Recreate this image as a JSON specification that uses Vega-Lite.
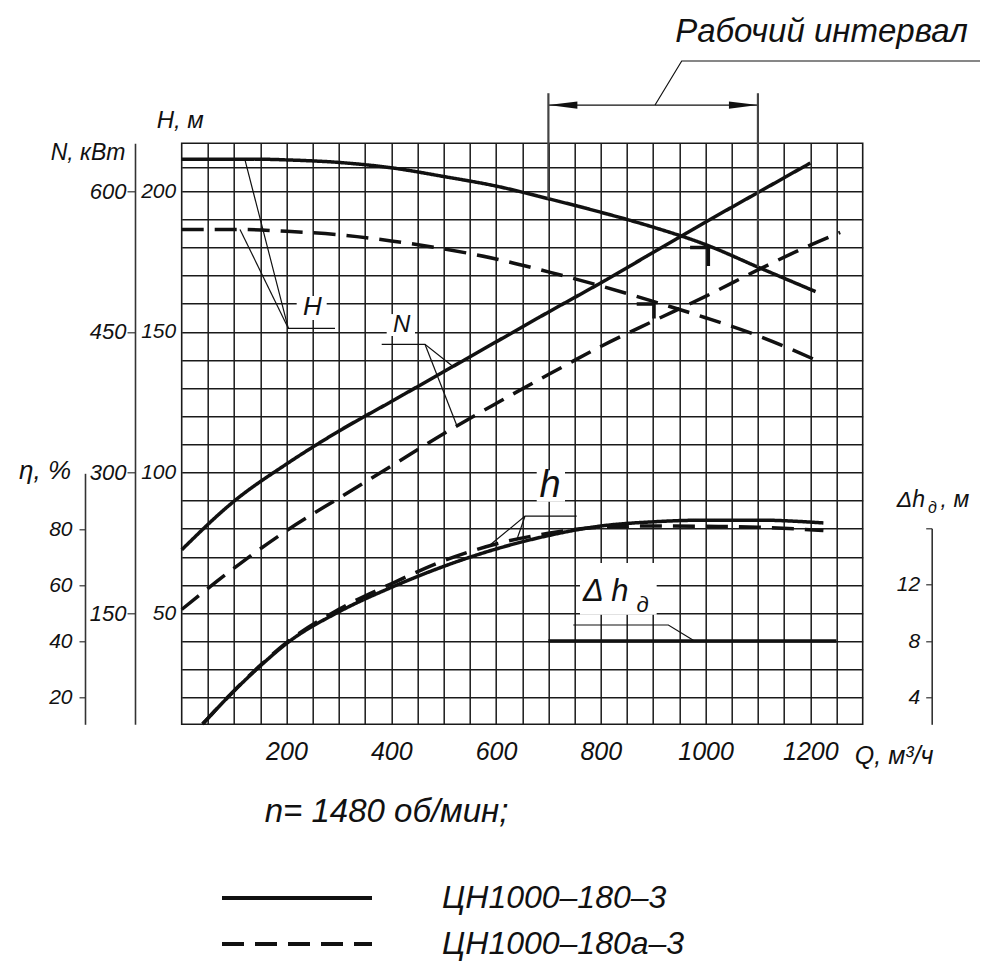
{
  "$schema": "https://vega.github.io/schema/vega-lite/v6.json",
  "width": 681,
  "height": 581,
  "autosize": {"type": "none"},
  "padding": {"left": 181.7, "top": 143.3, "right": 137.3, "bottom": 255.7},
  "background": "white",
  "config": {
    "view": {"stroke": "#1a1a1a", "strokeWidth": 1.6},
    "axis": {
      "labelFont": "Liberation Sans, sans-serif",
      "labelFontStyle": "italic",
      "labelColor": "#111",
      "titleFont": "Liberation Sans, sans-serif",
      "titleFontStyle": "italic",
      "titleFontWeight": "normal",
      "titleColor": "#111",
      "tickColor": "#333",
      "domainColor": "#333"
    },
    "text": {"font": "Liberation Sans, sans-serif", "fontStyle": "italic", "color": "#111"}
  },
  "datasets": {
    "hcurves": [
      {"pump": "ЦН1000–180–3", "Q": 0, "H": 211.3},
      {"pump": "ЦН1000–180–3", "Q": 100, "H": 211.3},
      {"pump": "ЦН1000–180–3", "Q": 160, "H": 211.3},
      {"pump": "ЦН1000–180–3", "Q": 200, "H": 211.1},
      {"pump": "ЦН1000–180–3", "Q": 300, "H": 210.2},
      {"pump": "ЦН1000–180–3", "Q": 400, "H": 208.3},
      {"pump": "ЦН1000–180–3", "Q": 500, "H": 205.2},
      {"pump": "ЦН1000–180–3", "Q": 600, "H": 201.8},
      {"pump": "ЦН1000–180–3", "Q": 700, "H": 197.3},
      {"pump": "ЦН1000–180–3", "Q": 800, "H": 192.5},
      {"pump": "ЦН1000–180–3", "Q": 900, "H": 187.2},
      {"pump": "ЦН1000–180–3", "Q": 1000, "H": 181.0},
      {"pump": "ЦН1000–180–3", "Q": 1100, "H": 173.0},
      {"pump": "ЦН1000–180–3", "Q": 1210, "H": 164.3},
      {"pump": "ЦН1000–180а–3", "Q": 0, "H": 186.4},
      {"pump": "ЦН1000–180а–3", "Q": 110, "H": 186.4},
      {"pump": "ЦН1000–180а–3", "Q": 200, "H": 185.7},
      {"pump": "ЦН1000–180а–3", "Q": 300, "H": 184.5},
      {"pump": "ЦН1000–180а–3", "Q": 400, "H": 182.3},
      {"pump": "ЦН1000–180а–3", "Q": 500, "H": 179.5},
      {"pump": "ЦН1000–180а–3", "Q": 600, "H": 175.9},
      {"pump": "ЦН1000–180а–3", "Q": 700, "H": 171.3},
      {"pump": "ЦН1000–180а–3", "Q": 800, "H": 166.3},
      {"pump": "ЦН1000–180а–3", "Q": 900, "H": 160.8},
      {"pump": "ЦН1000–180а–3", "Q": 1000, "H": 155.0},
      {"pump": "ЦН1000–180а–3", "Q": 1100, "H": 148.6},
      {"pump": "ЦН1000–180а–3", "Q": 1210, "H": 140.0}
    ],
    "ncurves": [
      {"pump": "ЦН1000–180–3", "Q": 0, "N": 217.5},
      {"pump": "ЦН1000–180–3", "Q": 100, "N": 269.4},
      {"pump": "ЦН1000–180–3", "Q": 200, "N": 309.0},
      {"pump": "ЦН1000–180–3", "Q": 300, "N": 344.1},
      {"pump": "ЦН1000–180–3", "Q": 400, "N": 375.6},
      {"pump": "ЦН1000–180–3", "Q": 500, "N": 407.4},
      {"pump": "ЦН1000–180–3", "Q": 600, "N": 439.2},
      {"pump": "ЦН1000–180–3", "Q": 700, "N": 471.0},
      {"pump": "ЦН1000–180–3", "Q": 800, "N": 502.2},
      {"pump": "ЦН1000–180–3", "Q": 900, "N": 534.6},
      {"pump": "ЦН1000–180–3", "Q": 1000, "N": 567.0},
      {"pump": "ЦН1000–180–3", "Q": 1100, "N": 598.5},
      {"pump": "ЦН1000–180–3", "Q": 1200, "N": 630.0},
      {"pump": "ЦН1000–180а–3", "Q": 0, "N": 153.9},
      {"pump": "ЦН1000–180а–3", "Q": 100, "N": 198.0},
      {"pump": "ЦН1000–180а–3", "Q": 200, "N": 237.9},
      {"pump": "ЦН1000–180а–3", "Q": 300, "N": 272.7},
      {"pump": "ЦН1000–180а–3", "Q": 400, "N": 306.9},
      {"pump": "ЦН1000–180а–3", "Q": 500, "N": 341.4},
      {"pump": "ЦН1000–180а–3", "Q": 600, "N": 373.5},
      {"pump": "ЦН1000–180а–3", "Q": 700, "N": 404.4},
      {"pump": "ЦН1000–180а–3", "Q": 800, "N": 434.4},
      {"pump": "ЦН1000–180а–3", "Q": 900, "N": 461.4},
      {"pump": "ЦН1000–180а–3", "Q": 1000, "N": 487.8},
      {"pump": "ЦН1000–180а–3", "Q": 1100, "N": 516.0},
      {"pump": "ЦН1000–180а–3", "Q": 1200, "N": 542.4},
      {"pump": "ЦН1000–180а–3", "Q": 1257, "N": 555.9}
    ],
    "etacurves": [
      {"pump": "ЦН1000–180–3", "Q": 40, "eta": 10.6},
      {"pump": "ЦН1000–180–3", "Q": 100, "eta": 22.4},
      {"pump": "ЦН1000–180–3", "Q": 150, "eta": 31.3},
      {"pump": "ЦН1000–180–3", "Q": 200, "eta": 39.3},
      {"pump": "ЦН1000–180–3", "Q": 300, "eta": 50.6},
      {"pump": "ЦН1000–180–3", "Q": 400, "eta": 59.3},
      {"pump": "ЦН1000–180–3", "Q": 500, "eta": 66.8},
      {"pump": "ЦН1000–180–3", "Q": 600, "eta": 73.0},
      {"pump": "ЦН1000–180–3", "Q": 700, "eta": 77.8},
      {"pump": "ЦН1000–180–3", "Q": 800, "eta": 81.2},
      {"pump": "ЦН1000–180–3", "Q": 900, "eta": 82.7},
      {"pump": "ЦН1000–180–3", "Q": 1000, "eta": 83.3},
      {"pump": "ЦН1000–180–3", "Q": 1100, "eta": 83.3},
      {"pump": "ЦН1000–180–3", "Q": 1225, "eta": 82.3},
      {"pump": "ЦН1000–180а–3", "Q": 40, "eta": 10.6},
      {"pump": "ЦН1000–180а–3", "Q": 100, "eta": 22.5},
      {"pump": "ЦН1000–180а–3", "Q": 150, "eta": 31.5},
      {"pump": "ЦН1000–180а–3", "Q": 200, "eta": 39.6},
      {"pump": "ЦН1000–180а–3", "Q": 300, "eta": 51.5},
      {"pump": "ЦН1000–180а–3", "Q": 400, "eta": 60.6},
      {"pump": "ЦН1000–180а–3", "Q": 500, "eta": 68.8},
      {"pump": "ЦН1000–180а–3", "Q": 600, "eta": 74.8},
      {"pump": "ЦН1000–180а–3", "Q": 700, "eta": 78.6},
      {"pump": "ЦН1000–180а–3", "Q": 800, "eta": 80.8},
      {"pump": "ЦН1000–180а–3", "Q": 900, "eta": 81.2},
      {"pump": "ЦН1000–180а–3", "Q": 1000, "eta": 81.1},
      {"pump": "ЦН1000–180а–3", "Q": 1100, "eta": 80.8},
      {"pump": "ЦН1000–180а–3", "Q": 1225, "eta": 79.6}
    ],
    "dh": [
      {"Q": 700, "dh": 8},
      {"Q": 1250, "dh": 8}
    ],
    "leaders": [
      {"g": 1, "o": 1, "Q": 120.8, "H": 211.1},
      {"g": 1, "o": 2, "Q": 203.5, "H": 151.25},
      {"g": 1, "o": 3, "Q": 292.6, "H": 151.25},
      {"g": 2, "o": 1, "Q": 111.3, "H": 186.4},
      {"g": 2, "o": 2, "Q": 203.5, "H": 151.25},
      {"g": 3, "o": 1, "Q": 381.8, "H": 145.56},
      {"g": 3, "o": 2, "Q": 464.4, "H": 145.56},
      {"g": 3, "o": 3, "Q": 518.5, "H": 137.6},
      {"g": 4, "o": 1, "Q": 464.4, "H": 145.56},
      {"g": 4, "o": 2, "Q": 525.0, "H": 116.8},
      {"g": 5, "o": 1, "Q": 588.5, "H": 74.2},
      {"g": 5, "o": 2, "Q": 655.4, "H": 84.5},
      {"g": 5, "o": 3, "Q": 754.0, "H": 84.5},
      {"g": 6, "o": 1, "Q": 639.5, "H": 76.0},
      {"g": 6, "o": 2, "Q": 655.4, "H": 84.5},
      {"g": 7, "o": 1, "Q": 747.5, "H": 45.8},
      {"g": 7, "o": 2, "Q": 929.0, "H": 45.8},
      {"g": 7, "o": 3, "Q": 976.6, "H": 40.4},
      {"g": 8, "o": 1, "Q": 700, "H": 230.6},
      {"g": 8, "o": 2, "Q": 1100, "H": 230.6},
      {"g": 9, "o": 1, "Q": 903.6, "H": 230.6},
      {"g": 9, "o": 2, "Q": 954.5, "H": 246.25},
      {"g": 9, "o": 3, "Q": 1524, "H": 246.25}
    ],
    "markers": [
      {"g": 1, "o": 1, "Q": 970.5, "H": 180.0},
      {"g": 1, "o": 2, "Q": 1005.3, "H": 180.0},
      {"g": 1, "o": 3, "Q": 1005.3, "H": 173.4},
      {"g": 2, "o": 1, "Q": 868.6, "H": 159.9},
      {"g": 2, "o": 2, "Q": 901.6, "H": 159.9},
      {"g": 2, "o": 3, "Q": 901.6, "H": 154.7}
    ]
  },
  "layer": [
    {
      "data": {"name": "hcurves"},
      "mark": {"type": "line", "color": "#111", "strokeWidth": 3.5, "interpolate": "monotone", "clip": false},
      "encoding": {
        "x": {
          "field": "Q", "type": "quantitative",
          "scale": {"domain": [0, 1300], "nice": false, "zero": false},
          "axis": {
            "values": [50,100,150,200,250,300,350,400,450,500,550,600,650,700,750,800,850,900,950,1000,1050,1100,1150,1200,1250],
            "format": "d",
            "labelExpr": "datum.value % 200 === 0 ? datum.label : ''",
            "grid": true, "gridColor": "#1a1a1a", "gridWidth": 1.5, "gridOpacity": 1,
            "ticks": false, "domain": false,
            "labelFontSize": 25, "labelPadding": 27, "labelBaseline": "middle", "labelAngle": 0,
            "labelOverlap": false, "labelFlush": false,
            "title": "Q, м³/ч", "titleFontSize": 25, "titleX": 712, "titleY": 31,
            "titleAlign": "center", "titleBaseline": "middle", "titleAngle": 0
          }
        },
        "y": {
          "field": "H", "type": "quantitative",
          "scale": {"domain": [10.5, 217], "nice": false, "zero": false},
          "axis": {
            "orient": "left",
            "values": [20,30,40,50,60,70,80,90,100,110,120,130,140,150,160,170,180,190,200,208.5],
            "format": "d",
            "labelExpr": "datum.value % 50 === 0 ? datum.label : ''",
            "grid": true, "gridColor": "#1a1a1a", "gridWidth": 1.5, "gridOpacity": 1,
            "ticks": false, "domain": false,
            "labelFontSize": 21, "labelPadding": 6, "labelOverlap": false,
            "title": "H, м", "titleAngle": 0, "titleFontSize": 24,
            "titleX": -2, "titleY": -23, "titleAlign": "center", "titleBaseline": "middle"
          }
        },
        "strokeDash": {
          "field": "pump", "type": "nominal",
          "scale": {"domain": ["ЦН1000–180–3", "ЦН1000–180а–3"], "range": [[1, 0], [22, 11]]},
          "legend": {
            "orient": "none", "legendX": 98.3, "legendY": 737.7, "title": null,
            "symbolType": "M-5,0H5", "symbolSize": 900, "symbolStrokeWidth": 4,
            "symbolStrokeColor": "#111", "symbolFillColor": "transparent",
            "labelFont": "Liberation Sans, sans-serif",
            "labelFontStyle": "italic", "labelFontSize": 32, "labelColor": "#111",
            "labelOffset": 128, "rowPadding": 13, "padding": 0, "labelLimit": 500
          }
        }
      }
    },
    {
      "data": {"name": "ncurves"},
      "mark": {"type": "line", "color": "#111", "strokeWidth": 3.5, "interpolate": "monotone", "clip": false},
      "encoding": {
        "x": {"field": "Q", "type": "quantitative", "scale": {"domain": [0, 1300], "nice": false, "zero": false}, "axis": null},
        "y": {
          "field": "N", "type": "quantitative",
          "scale": {"domain": [31.5, 651], "nice": false, "zero": false},
          "axis": {
            "orient": "left", "offset": 46.7,
            "values": [150, 300, 450, 600], "format": "d",
            "grid": false, "ticks": true, "tickSize": 8, "tickWidth": 1.2,
            "domain": true, "domainWidth": 1.6,
            "labelFontSize": 22, "labelPadding": 1,
            "title": "N, кВт", "titleAngle": 0, "titleFontSize": 23,
            "titleX": -47.5, "titleY": 8.7, "titleAlign": "center", "titleBaseline": "middle"
          }
        },
        "strokeDash": {
          "field": "pump", "type": "nominal",
          "scale": {"domain": ["ЦН1000–180–3", "ЦН1000–180а–3"], "range": [[1, 0], [22, 11]]},
          "legend": null
        }
      }
    },
    {
      "data": {"name": "etacurves"},
      "mark": {"type": "line", "color": "#111", "strokeWidth": 3.5, "interpolate": "monotone", "clip": false},
      "encoding": {
        "x": {"field": "Q", "type": "quantitative", "scale": {"domain": [0, 1300], "nice": false, "zero": false}, "axis": null},
        "y": {
          "field": "eta", "type": "quantitative",
          "scale": {"domain": [10.5, 100], "range": [581, 330], "nice": false, "zero": false},
          "axis": {
            "orient": "left", "offset": 96.7,
            "values": [20, 40, 60, 80], "format": "d",
            "grid": false, "ticks": true, "tickSize": 6, "tickWidth": 1.2,
            "domain": true, "domainWidth": 1.6,
            "labelFontSize": 21, "labelPadding": 7,
            "title": "η, %", "titleAngle": 0, "titleFontSize": 26,
            "titleX": -40.5, "titleY": 326.7, "titleAlign": "center", "titleBaseline": "middle"
          }
        },
        "strokeDash": {
          "field": "pump", "type": "nominal",
          "scale": {"domain": ["ЦН1000–180–3", "ЦН1000–180а–3"], "range": [[1, 0], [22, 11]]},
          "legend": null
        }
      }
    },
    {
      "data": {"name": "dh"},
      "mark": {"type": "line", "color": "#111", "strokeWidth": 3.5, "clip": false},
      "encoding": {
        "x": {"field": "Q", "type": "quantitative", "scale": {"domain": [0, 1300], "nice": false, "zero": false}, "axis": null},
        "y": {
          "field": "dh", "type": "quantitative",
          "scale": {"domain": [2.1, 16], "range": [581, 385], "nice": false, "zero": false},
          "axis": {
            "orient": "left", "offset": -750,
            "values": [4, 8, 12, 16], "format": "d",
            "labelExpr": "datum.value === 16 ? '' : datum.label",
            "grid": false, "ticks": true, "tickSize": 6, "tickWidth": 1.2,
            "domain": true, "domainWidth": 1.6,
            "labelFontSize": 21, "labelPadding": 6,
            "title": null
          }
        }
      }
    },
    {
      "data": {"values": [
        {"Q1": 219.5, "Q2": 276.8, "H1": 154.2, "H2": 162.7},
        {"Q1": 391.3, "Q2": 445.4, "H1": 148.5, "H2": 156.3},
        {"Q1": 677.7, "Q2": 731.7, "H1": 89.6, "H2": 100.8},
        {"Q1": 760.3, "Q2": 906.7, "H1": 49.4, "H2": 67.8}
      ]},
      "mark": {"type": "rect", "color": "white", "clip": false},
      "encoding": {
        "x": {"field": "Q1", "type": "quantitative", "scale": {"domain": [0, 1300], "nice": false, "zero": false}, "axis": null},
        "x2": {"field": "Q2"},
        "y": {"field": "H1", "type": "quantitative", "scale": {"domain": [10.5, 217], "nice": false, "zero": false}, "axis": null},
        "y2": {"field": "H2"}
      }
    },
    {
      "data": {"name": "leaders"},
      "mark": {"type": "line", "color": "#111", "strokeWidth": 1.2, "clip": false},
      "encoding": {
        "x": {"field": "Q", "type": "quantitative", "scale": {"domain": [0, 1300], "nice": false, "zero": false}, "axis": null},
        "y": {"field": "H", "type": "quantitative", "scale": {"domain": [10.5, 217], "nice": false, "zero": false}, "axis": null},
        "detail": {"field": "g", "type": "nominal"},
        "order": {"field": "o", "type": "quantitative"}
      }
    },
    {
      "data": {"values": [
        {"Q": 700, "H": 234.8, "H2": 197.3},
        {"Q": 1100, "H": 234.8, "H2": 173.0}
      ]},
      "mark": {"type": "rule", "color": "#444", "strokeWidth": 2.2, "clip": false},
      "encoding": {
        "x": {"field": "Q", "type": "quantitative", "scale": {"domain": [0, 1300], "nice": false, "zero": false}, "axis": null},
        "y": {"field": "H", "type": "quantitative", "scale": {"domain": [10.5, 217], "nice": false, "zero": false}, "axis": null},
        "y2": {"field": "H2"}
      }
    },
    {
      "data": {"name": "markers"},
      "mark": {"type": "line", "color": "#111", "strokeWidth": 3.5, "clip": false},
      "encoding": {
        "x": {"field": "Q", "type": "quantitative", "scale": {"domain": [0, 1300], "nice": false, "zero": false}, "axis": null},
        "y": {"field": "H", "type": "quantitative", "scale": {"domain": [10.5, 217], "nice": false, "zero": false}, "axis": null},
        "detail": {"field": "g", "type": "nominal"},
        "order": {"field": "o", "type": "quantitative"}
      }
    },
    {
      "data": {"values": [
        {"Q": 700, "H": 230.6, "dir": "left"},
        {"Q": 1100, "H": 230.6, "dir": "right"}
      ]},
      "mark": {"type": "point", "filled": true, "color": "#111", "size": 841, "opacity": 1, "clip": false},
      "encoding": {
        "x": {"field": "Q", "type": "quantitative", "scale": {"domain": [0, 1300], "nice": false, "zero": false}, "axis": null},
        "y": {"field": "H", "type": "quantitative", "scale": {"domain": [10.5, 217], "nice": false, "zero": false}, "axis": null},
        "shape": {"field": "dir", "type": "nominal", "scale": {"domain": ["left", "right"], "range": ["M0,0L2,-0.25L2,0.25Z", "M0,0L-2,-0.25L-2,0.25Z"]}, "legend": null}
      }
    },
    {
      "data": {"values": [
        {"label": "h", "Q": 703, "H": 95.2}
      ]},
      "mark": {"type": "text", "fontSize": 38, "align": "center", "baseline": "middle", "clip": false},
      "encoding": {
        "x": {"field": "Q", "type": "quantitative", "scale": {"domain": [0, 1300], "nice": false, "zero": false}, "axis": null},
        "y": {"field": "H", "type": "quantitative", "scale": {"domain": [10.5, 217], "nice": false, "zero": false}, "axis": null},
        "text": {"field": "label"}
      }
    },
    {
      "data": {"values": [
        {"label": "Рабочий интервал", "Q": 1221.3, "H": 256.6},
        {"label": "n= 1480 об/мин;", "Q": 391, "H": -20.8}
      ]},
      "mark": {"type": "text", "fontSize": 33, "align": "center", "baseline": "middle", "clip": false},
      "encoding": {
        "x": {"field": "Q", "type": "quantitative", "scale": {"domain": [0, 1300], "nice": false, "zero": false}, "axis": null},
        "y": {"field": "H", "type": "quantitative", "scale": {"domain": [10.5, 217], "nice": false, "zero": false}, "axis": null},
        "text": {"field": "label"}
      }
    },
    {
      "data": {"values": [{"label": "H", "Q": 249.3, "H": 158.7}]},
      "mark": {"type": "text", "fontSize": 26, "align": "center", "baseline": "middle", "clip": false},
      "encoding": {
        "x": {"field": "Q", "type": "quantitative", "scale": {"domain": [0, 1300], "nice": false, "zero": false}, "axis": null},
        "y": {"field": "H", "type": "quantitative", "scale": {"domain": [10.5, 217], "nice": false, "zero": false}, "axis": null},
        "text": {"field": "label"}
      }
    },
    {
      "data": {"values": [{"label": "N", "Q": 420, "H": 152.4}]},
      "mark": {"type": "text", "fontSize": 24, "align": "center", "baseline": "middle", "clip": false},
      "encoding": {
        "x": {"field": "Q", "type": "quantitative", "scale": {"domain": [0, 1300], "nice": false, "zero": false}, "axis": null},
        "y": {"field": "H", "type": "quantitative", "scale": {"domain": [10.5, 217], "nice": false, "zero": false}, "axis": null},
        "text": {"field": "label"}
      }
    },
    {
      "data": {"values": [{"label": "Δ h", "Q": 809.4, "H": 57.7}]},
      "mark": {"type": "text", "fontSize": 31, "align": "center", "baseline": "middle", "clip": false},
      "encoding": {
        "x": {"field": "Q", "type": "quantitative", "scale": {"domain": [0, 1300], "nice": false, "zero": false}, "axis": null},
        "y": {"field": "H", "type": "quantitative", "scale": {"domain": [10.5, 217], "nice": false, "zero": false}, "axis": null},
        "text": {"field": "label"}
      }
    },
    {
      "data": {"values": [{"label": "д", "Q": 879.6, "H": 52.9}]},
      "mark": {"type": "text", "fontSize": 22, "align": "center", "baseline": "middle", "clip": false},
      "encoding": {
        "x": {"field": "Q", "type": "quantitative", "scale": {"domain": [0, 1300], "nice": false, "zero": false}, "axis": null},
        "y": {"field": "H", "type": "quantitative", "scale": {"domain": [10.5, 217], "nice": false, "zero": false}, "axis": null},
        "text": {"field": "label"}
      }
    },
    {
      "data": {"values": [
        {"label": "Δh", "Q": 1392, "H": 90.2},
        {"label": ", м", "Q": 1476, "H": 90.2}
      ]},
      "mark": {"type": "text", "fontSize": 23, "align": "center", "baseline": "middle", "clip": false},
      "encoding": {
        "x": {"field": "Q", "type": "quantitative", "scale": {"domain": [0, 1300], "nice": false, "zero": false}, "axis": null},
        "y": {"field": "H", "type": "quantitative", "scale": {"domain": [10.5, 217], "nice": false, "zero": false}, "axis": null},
        "text": {"field": "label"}
      }
    },
    {
      "data": {"values": [{"label": "д", "Q": 1433, "H": 87.4}]},
      "mark": {"type": "text", "fontSize": 16, "align": "center", "baseline": "middle", "clip": false},
      "encoding": {
        "x": {"field": "Q", "type": "quantitative", "scale": {"domain": [0, 1300], "nice": false, "zero": false}, "axis": null},
        "y": {"field": "H", "type": "quantitative", "scale": {"domain": [10.5, 217], "nice": false, "zero": false}, "axis": null},
        "text": {"field": "label"}
      }
    }
  ],
  "resolve": {"scale": {"y": "independent"}, "axis": {"x": "independent", "y": "independent"}}
}
